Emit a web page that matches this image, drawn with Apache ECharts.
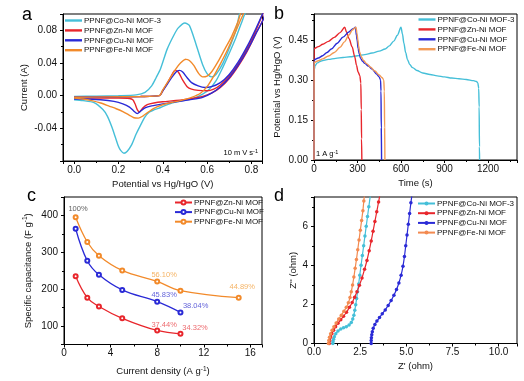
<!DOCTYPE html>
<html><head><meta charset="utf-8">
<script src="https://cdn.jsdelivr.net/npm/echarts@6/dist/echarts.min.js"></script>
<style>html,body{margin:0;padding:0;background:#fff}#c{width:524px;height:381px}</style>
</head><body><div id="c"></div>
<script>
// ---------- Panel a : CV curves (potential V vs current A), forward then reverse scan ----------
const cvCoNiV = [0.00,0.10,0.20,0.28,0.32,0.35,0.37,0.39,0.42,0.45,0.47,0.50,0.52,0.55,0.58,0.60,0.62,0.64,0.67,0.70,0.73,0.76,
                 0.785,0.77,0.755,0.73,0.70,0.67,0.64,0.61,0.58,0.54,0.49,0.44,0.39,0.36,0.34,0.32,0.30,0.28,0.26,0.24,0.225,0.21,0.20,0.185,0.17,0.15,0.13,0.09,0.04,0.00];
const cvCoNiI = [-0.001,-0.0005,0.000,0.001,0.004,0.012,0.022,0.033,0.057,0.074,0.083,0.089,0.086,0.063,0.038,0.027,0.023,0.026,0.039,0.058,0.080,0.110,
                 0.108,0.100,0.089,0.071,0.052,0.034,0.018,0.008,0.002,-0.003,-0.006,-0.009,-0.0145,-0.0175,-0.020,-0.026,-0.036,-0.047,-0.060,-0.068,-0.0705,-0.067,-0.062,-0.050,-0.038,-0.025,-0.017,-0.0085,-0.006,-0.005];
const cvZnNiV = [0.00,0.15,0.30,0.385,0.40,0.42,0.44,0.455,0.47,0.49,0.51,0.53,0.56,0.60,0.63,0.66,0.70,0.74,0.78,0.82,0.86,
                 0.86,0.82,0.78,0.74,0.70,0.66,0.62,0.58,0.52,0.46,0.40,0.36,0.33,0.31,0.295,0.285,0.275,0.265,0.25,0.20,0.10,0.00];
const cvZnNiI = [-0.002,-0.0015,-0.001,0.000,0.006,0.015,0.025,0.031,0.029,0.019,0.011,0.008,0.0065,0.006,0.008,0.013,0.024,0.039,0.058,0.080,0.106,
                 0.100,0.076,0.054,0.036,0.021,0.010,0.003,-0.001,-0.004,-0.006,-0.0075,-0.009,-0.011,-0.015,-0.020,-0.017,-0.010,-0.005,-0.0035,-0.003,-0.003,-0.003];
const cvCuNiV = [0.00,0.15,0.30,0.385,0.40,0.42,0.44,0.46,0.475,0.49,0.51,0.53,0.56,0.59,0.62,0.66,0.70,0.74,0.78,0.82,0.86,
                 0.86,0.82,0.78,0.74,0.70,0.66,0.62,0.58,0.52,0.46,0.40,0.35,0.32,0.30,0.285,0.27,0.25,0.22,0.18,0.12,0.05,0.00];
const cvCuNiI = [-0.002,-0.0015,-0.001,0.000,0.006,0.014,0.022,0.029,0.031,0.029,0.022,0.016,0.012,0.010,0.011,0.016,0.026,0.041,0.060,0.082,0.106,
                 0.100,0.076,0.055,0.037,0.022,0.011,0.003,-0.002,-0.005,-0.0075,-0.010,-0.0125,-0.015,-0.019,-0.022,-0.019,-0.014,-0.010,-0.007,-0.005,-0.004,-0.004];
const cvFeNiV = [0.00,0.15,0.30,0.385,0.40,0.43,0.46,0.48,0.505,0.52,0.54,0.56,0.58,0.60,0.62,0.65,0.68,0.71,0.74,0.765,
                 0.77,0.75,0.72,0.69,0.66,0.63,0.60,0.57,0.53,0.48,0.43,0.39,0.36,0.33,0.31,0.29,0.27,0.25,0.22,0.19,0.16,0.12,0.08,0.04,0.00];
const cvFeNiI = [-0.002,-0.0015,-0.001,0.000,0.007,0.020,0.033,0.040,0.0445,0.043,0.037,0.028,0.023,0.024,0.029,0.042,0.057,0.072,0.091,0.110,
                 0.106,0.092,0.073,0.055,0.039,0.024,0.011,0.003,-0.002,-0.006,-0.009,-0.012,-0.0155,-0.021,-0.025,-0.0275,-0.027,-0.024,-0.0195,-0.016,-0.013,-0.009,-0.006,-0.004,-0.003];

// ---------- Panel b : GCD curves (time s vs potential V) ----------
const gcdCoNiT = [0,1,8,20,50,100,150,200,250,300,350,400,450,490,520,550,575,600,610,620,632,645,660,680,710,750,800,850,900,950,1000,1050,1100,1120,1130,1136,1139,1141,1142];
const gcdCoNiV = [0,0.34,0.355,0.365,0.373,0.379,0.383,0.386,0.389,0.393,0.397,0.403,0.410,0.418,0.430,0.448,0.470,0.500,0.475,0.440,0.405,0.378,0.360,0.348,0.337,0.328,0.322,0.317,0.313,0.309,0.306,0.303,0.299,0.296,0.290,0.270,0.200,0.050,0];
const gcdZnNiT = [0,1,30,60,100,140,180,212,224,242,263,281,293,304,316,323,326,328,330];
const gcdZnNiV = [0,0.420,0.427,0.436,0.447,0.462,0.480,0.500,0.482,0.457,0.426,0.389,0.357,0.332,0.318,0.290,0.190,0.080,0];
const gcdCuNiT = [0,1,30,60,90,120,160,200,240,270,286,293,298,304,312,321,335,350,375,400,431,449,459,462,464,466];
const gcdCuNiV = [0,0.378,0.384,0.393,0.405,0.418,0.440,0.463,0.482,0.495,0.500,0.468,0.450,0.420,0.400,0.383,0.372,0.364,0.354,0.343,0.324,0.313,0.302,0.260,0.120,0];
const gcdFeNiT = [0,1,30,60,100,140,180,210,240,265,290,296,302,308,315,325,340,365,390,420,450,470,481,485,487,489];
const gcdFeNiV = [0,0.368,0.374,0.381,0.392,0.405,0.425,0.445,0.470,0.490,0.500,0.478,0.455,0.430,0.407,0.390,0.376,0.362,0.350,0.335,0.320,0.310,0.302,0.260,0.120,0];

// ---------- Panel c : rate capability ----------
const densityZnCu = [1, 2, 3, 5, 8, 10];
const densityFe = [1, 2, 3, 5, 8, 10, 15];
const capZnNi = [235, 177, 153, 121, 88, 79];
const capCuNi = [364, 277, 239, 198, 166, 137];
const capFeNi = [395, 328, 291, 251, 221, 196, 177];
const retentionText = ['100%', '56.10%', '44.89%', '45.83%', '38.04%', '37.44%', '34.32%'];
const retentionAt = [[1.2, 417], [8.6, 240], [15.3, 205], [8.6, 184], [11.3, 154], [8.6, 103], [11.25, 96]];
const retentionSeries = ['none', 'Fe', 'Fe', 'Cu', 'Cu', 'Zn', 'Zn'];

// ---------- Panel d : Nyquist plots (Z' vs -Z'') ----------
const eisCoNiRe = [1.02,1.03,1.06,1.10,1.18,1.30,1.45,1.60,1.75,1.90,2.02,2.10,2.16,2.21,2.26,2.31,2.36,2.42,2.48,2.55,2.62,2.69,2.76,2.83,2.90,2.97,3.05];
const eisCoNiIm = [0.00,0.10,0.22,0.35,0.50,0.64,0.74,0.80,0.86,0.95,1.08,1.25,1.45,1.70,1.98,2.30,2.65,3.05,3.50,4.00,4.50,5.00,5.50,6.00,6.50,7.00,7.55];
const eisZnNiRe = [0.83,0.85,0.90,0.97,1.06,1.17,1.30,1.45,1.60,1.76,1.92,2.07,2.20,2.33,2.46,2.60,2.74,2.87,2.99,3.10,3.20,3.30,3.40,3.50,3.56];
const eisZnNiIm = [0.00,0.15,0.32,0.50,0.68,0.86,1.04,1.22,1.40,1.60,1.85,2.10,2.37,2.65,2.98,3.35,3.80,4.25,4.75,5.25,5.75,6.25,6.75,7.25,7.55];
const eisCuNiRe = [3.10,3.10,3.11,3.13,3.16,3.21,3.30,3.41,3.55,3.70,3.86,4.02,4.18,4.33,4.47,4.60,4.72,4.82,4.90,4.97,5.04,5.11,5.18,5.25,5.30];
const eisCuNiIm = [0.00,0.15,0.30,0.45,0.60,0.78,0.97,1.15,1.33,1.52,1.72,1.95,2.20,2.47,2.76,3.10,3.50,3.95,4.45,5.00,5.55,6.10,6.65,7.20,7.55];
const eisFeNiRe = [0.78,0.80,0.84,0.90,0.98,1.08,1.20,1.34,1.48,1.62,1.75,1.86,1.95,2.02,2.09,2.16,2.23,2.30,2.37,2.44,2.51,2.58,2.65,2.70,2.73];
const eisFeNiIm = [0.00,0.15,0.32,0.50,0.68,0.86,1.05,1.25,1.45,1.65,1.85,2.08,2.35,2.65,3.00,3.40,3.85,4.30,4.80,5.30,5.80,6.30,6.80,7.30,7.55];

// ---------- names & colours ----------
const NAME_CO = 'PPNF@Co-Ni MOF-3', NAME_ZN = 'PPNF@Zn-Ni MOF', NAME_CU = 'PPNF@Cu-Ni MOF', NAME_FE = 'PPNF@Fe-Ni MOF';
const C_CO = '#45bfd8', C_ZN = '#e8262c', C_CU = '#2a2ad6', C_FE = '#f28a2a';
const colorOf = { none: '#333', Zn: '#e8454a', Cu: '#3a3ad0', Fe: '#f3a040' };
const FONT = '"Liberation Sans", Arial, Helvetica, sans-serif';

const zip = (xs, ys) => xs.map((x, i) => [x, ys[i]]);

function axis(o) {
  const base = {
    type: 'value',
    axisLine: { show: true, onZero: false, lineStyle: { color: '#000', width: 1 } },
    axisTick: { show: true, inside: false, length: 3, lineStyle: { color: '#000', width: 1 } },
    minorTick: { show: true, splitNumber: 2, length: 2, lineStyle: { color: '#000', width: 1 } },
    splitLine: { show: false },
    minorSplitLine: { show: false },
    nameLocation: 'middle',
    nameMoveOverlap: false,
    nameTextStyle: { color: '#111', fontSize: 9.5, fontFamily: FONT },
  };
  const lab = Object.assign({ color: '#111', fontSize: 10, fontFamily: FONT, margin: 4, showMaxLabel: false, showMinLabel: true, hideOverlap: false, formatter: v => String(v) }, o.axisLabel || {});
  const r = Object.assign(base, o);
  r.axisLabel = lab;
  if (o.nameTextStyle) r.nameTextStyle = Object.assign({ color: '#111', fontSize: 9.5, fontFamily: FONT }, o.nameTextStyle);
  return r;
}

function gridBox(left, top, width, height) {
  return { left, top, width, height, show: true, borderColor: '#000', borderWidth: 1, backgroundColor: 'transparent', containLabel: false, outerBoundsMode: 'none' };
}

function lineSeries(panel, name, color, data, idx, extra) {
  return Object.assign({
    type: 'line', name: panel + '|' + name, data, xAxisIndex: idx, yAxisIndex: idx,
    symbol: 'none', showSymbol: false, clip: true, animation: false,
    lineStyle: { color, width: 1.4 }, itemStyle: { color },
    emphasis: { disabled: true }, z: 2
  }, extra || {});
}

function legendAt(panel, names, left, top, extra) {
  return Object.assign({
    data: names.map(n => panel + '|' + n), orient: 'vertical', left, top, padding: 0,
    itemWidth: 17, itemHeight: 8, itemGap: 1.8, selectedMode: false,
    formatter: n => n.split('|')[1],
    textStyle: { fontSize: 8, fontFamily: FONT, color: '#111', padding: [0, 0, 0, -3] }
  }, extra || {});
}

const sup = {
  n: { fontSize: 9.5, fontFamily: FONT, color: '#111' },
  s: { fontSize: 6.5, fontFamily: FONT, color: '#111', verticalAlign: 'top', padding: [0, 0, 5, 0] }
};
const supSmall = {
  n: { fontSize: 7.5, fontFamily: FONT, color: '#111' },
  s: { fontSize: 5.5, fontFamily: FONT, color: '#111', padding: [0, 0, 4, 0] }
};

const option = {
  animation: false,
  backgroundColor: '#fff',
  grid: [
    gridBox(63, 14, 199.5, 147),
    gridBox(314, 14, 203, 146),
    gridBox(64, 197, 198, 147.5),
    gridBox(314, 197, 203, 146.5)
  ],
  xAxis: [
    axis({ gridIndex: 0, min: -0.05, max: 0.85, splitNumber: 5, name: 'Potential vs Hg/HgO (V)', nameGap: 18,
           axisLabel: { showMinLabel: false, formatter: v => v.toFixed(1) } }),
    axis({ gridIndex: 1, min: 0, max: 1400, interval: 300, name: 'Time (s)', nameGap: 18 }),
    axis({ gridIndex: 2, min: 0, max: 17, interval: 4, name: 'Current density (A g-1)', nameGap: 21,
           nameTextStyle: { rich: sup }, }),
    axis({ gridIndex: 3, min: 0, max: 11, interval: 2.5, name: "Z' (ohm)", nameGap: 18,
           axisLabel: { formatter: v => v.toFixed(1) } })
  ],
  yAxis: [
    axis({ gridIndex: 0, min: -0.08, max: 0.1, interval: 0.04, name: 'Current (A)', nameGap: 34,
           axisLabel: { showMinLabel: false, margin: 6, formatter: v => v.toFixed(2) } }),
    axis({ gridIndex: 1, min: 0, max: 0.55, interval: 0.15, name: 'Potential vs Hg/HgO (V)', nameGap: 32,
           axisLabel: { margin: 6, formatter: v => v.toFixed(2) } }),
    axis({ gridIndex: 2, min: 50, max: 450, splitNumber: 4, name: 'Specific capacitance (F g-1)', nameGap: 30,
           nameTextStyle: { rich: sup }, axisLabel: { margin: 6, showMinLabel: false } }),
    axis({ gridIndex: 3, min: 0, max: 7.5, interval: 2, name: "Z'' (ohm)", nameGap: 16,
           axisLabel: { margin: 6 } })
  ],
  legend: [
    legendAt('a', [NAME_CO, NAME_ZN, NAME_CU, NAME_FE], 65, 16.5, { icon: 'rect', itemHeight: 2.4, itemGap: 1.9 }),
    legendAt('b', [NAME_CO, NAME_ZN, NAME_CU, NAME_FE], 418.5, 15.5, { icon: 'rect', itemHeight: 2.4, itemGap: 1.9 }),
    legendAt('c', [NAME_ZN, NAME_CU, NAME_FE], 174, 198.5, { itemHeight: 5, itemGap: 1.6 }),
    legendAt('d', [NAME_CO, NAME_ZN, NAME_CU, NAME_FE], 417, 199.5, { itemHeight: 5, itemGap: 1.7 })
  ],
  series: [
    lineSeries('a', NAME_CO, C_CO, zip(cvCoNiV, cvCoNiI), 0, { smooth: 0.25 }),
    lineSeries('a', NAME_ZN, C_ZN, zip(cvZnNiV, cvZnNiI), 0, { smooth: 0.25 }),
    lineSeries('a', NAME_CU, C_CU, zip(cvCuNiV, cvCuNiI), 0, { smooth: 0.25 }),
    lineSeries('a', NAME_FE, C_FE, zip(cvFeNiV, cvFeNiI), 0, { smooth: 0.25 }),

    lineSeries('b', NAME_CO, C_CO, zip(gcdCoNiT, gcdCoNiV), 1, { smooth: 0.3, smoothMonotone: 'x' }),
    lineSeries('b', NAME_ZN, C_ZN, zip(gcdZnNiT, gcdZnNiV), 1, { smooth: 0.3, smoothMonotone: 'x' }),
    lineSeries('b', NAME_CU, C_CU, zip(gcdCuNiT, gcdCuNiV), 1, { smooth: 0.3, smoothMonotone: 'x' }),
    lineSeries('b', NAME_FE, '#f39a55', zip(gcdFeNiT, gcdFeNiV), 1, { smooth: 0.3, smoothMonotone: 'x' }),

    lineSeries('c', NAME_ZN, C_ZN, zip(densityZnCu, capZnNi), 2, { smooth: 0.4, symbol: 'emptyCircle', showSymbol: true, symbolSize: 4, lineStyle: { color: C_ZN, width: 1.3 } }),
    lineSeries('c', NAME_CU, C_CU, zip(densityZnCu, capCuNi), 2, { smooth: 0.4, symbol: 'emptyCircle', showSymbol: true, symbolSize: 4, lineStyle: { color: C_CU, width: 1.3 } }),
    lineSeries('c', NAME_FE, C_FE, zip(densityFe, capFeNi), 2, { smooth: 0.4, symbol: 'emptyCircle', showSymbol: true, symbolSize: 4, lineStyle: { color: C_FE, width: 1.3 } }),
    {
      type: 'scatter', xAxisIndex: 2, yAxisIndex: 2, symbolSize: 0, silent: true, animation: false,
      data: retentionText.map((t, i) => ({ value: retentionAt[i], name: t,
        label: { show: true, position: 'inside', formatter: t, fontSize: 7.5, fontFamily: FONT, color: colorOf[retentionSeries[i]] } })),
      z: 5
    },

    lineSeries('d', NAME_CO, C_CO, zip(eisCoNiRe, eisCoNiIm), 3, { smooth: 0.3, symbol: 'circle', showSymbol: true, symbolSize: 3.5, lineStyle: { color: C_CO, width: 1.2 } }),
    lineSeries('d', NAME_ZN, C_ZN, zip(eisZnNiRe, eisZnNiIm), 3, { smooth: 0.3, symbol: 'circle', showSymbol: true, symbolSize: 3.5, lineStyle: { color: C_ZN, width: 1.2 } }),
    lineSeries('d', NAME_CU, C_CU, zip(eisCuNiRe, eisCuNiIm), 3, { smooth: 0.3, symbol: 'circle', showSymbol: true, symbolSize: 3.5, lineStyle: { color: C_CU, width: 1.2 } }),
    lineSeries('d', NAME_FE, '#f38a50', zip(eisFeNiRe, eisFeNiIm), 3, { smooth: 0.3, symbol: 'circle', showSymbol: true, symbolSize: 3.5, lineStyle: { color: '#f38a50', width: 1.2 } })
  ],
  graphic: [
    { type: 'text', left: 22, top: 6, style: { text: 'a', font: '18px ' + FONT, fill: '#000' } },
    { type: 'text', left: 274, top: 5, style: { text: 'b', font: '18px ' + FONT, fill: '#000' } },
    { type: 'text', left: 27, top: 187, style: { text: 'c', font: '18px ' + FONT, fill: '#000' } },
    { type: 'text', left: 274, top: 187, style: { text: 'd', font: '18px ' + FONT, fill: '#000' } },
    { type: 'text', right: 266, top: 148, style: { text: '{n|10 m V s}{s|-1}', rich: supSmall } },
    { type: 'text', left: 316, top: 149, style: { text: '{n|1 A g}{s|-1}', rich: supSmall } }
  ]
};

// axis names with superscripts
option.xAxis[2].name = '{n|Current density (A g}{s|-1}{n|)}';
option.yAxis[2].name = '{n|Specific capacitance (F g}{s|-1}{n|)}';

const chart = echarts.init(document.getElementById('c'), null, { renderer: 'canvas', devicePixelRatio: 1 });
chart.setOption(option);
</script></body></html>
